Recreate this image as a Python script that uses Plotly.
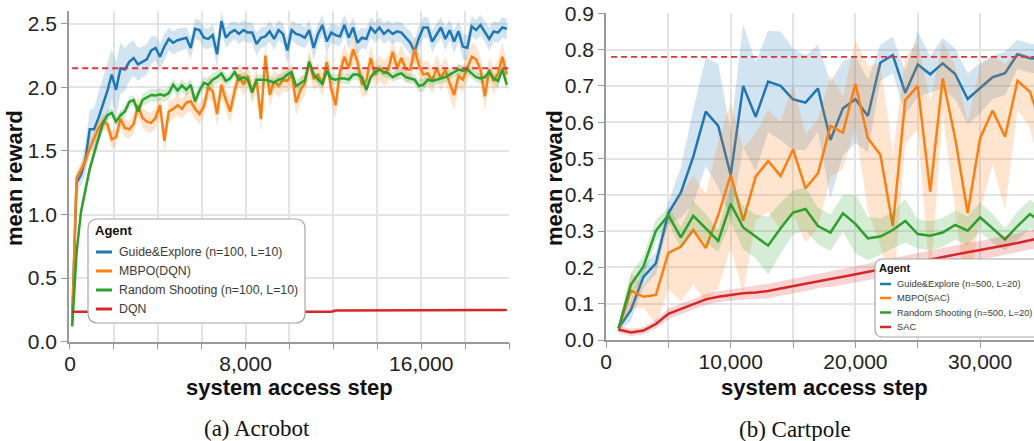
import plotly.graph_objects as go

W, H = 1034, 441

# ---------------- Acrobot (evaluation every 200 system steps) ----------------
acro_steps = list(range(100, 20000, 200))

acro_guide = [
    0.16, 1.25, 1.31, 1.43, 1.67, 1.67, 1.76, 1.86, 1.97, 2.10,
    1.98, 2.15, 2.14, 2.20, 2.23, 2.18, 2.20, 2.22, 2.29, 2.31,
    2.24, 2.32, 2.38, 2.35, 2.37, 2.38, 2.39, 2.31, 2.46, 2.45,
    2.39, 2.38, 2.41, 2.26, 2.52, 2.39, 2.43, 2.45, 2.42, 2.45,
    2.43, 2.43, 2.34, 2.39, 2.40, 2.44, 2.38, 2.45, 2.42, 2.29,
    2.45, 2.42, 2.41, 2.39, 2.45, 2.31, 2.42, 2.49, 2.36, 2.43,
    2.41, 2.40, 2.49, 2.39, 2.47, 2.35, 2.39, 2.38, 2.47, 2.43,
    2.47, 2.42, 2.45, 2.42, 2.44, 2.43, 2.39, 2.35, 2.28, 2.39,
    2.47, 2.47, 2.36, 2.42, 2.47, 2.38, 2.45, 2.36, 2.44, 2.32,
    2.31, 2.48, 2.45, 2.49, 2.44, 2.38, 2.44, 2.43, 2.47, 2.46,
]
acro_guide_sd = [
    0.03, 0.06, 0.08, 0.12, 0.15, 0.17, 0.20, 0.22, 0.22, 0.20,
    0.22, 0.20, 0.17, 0.15, 0.14, 0.13, 0.12, 0.12, 0.11, 0.10,
    0.10, 0.10, 0.09, 0.09, 0.09, 0.09, 0.08, 0.09, 0.08, 0.08,
    0.08, 0.08, 0.09, 0.10, 0.08, 0.08, 0.08, 0.07, 0.08, 0.08,
    0.08, 0.08, 0.09, 0.08, 0.08, 0.08, 0.09, 0.08, 0.08, 0.10,
    0.08, 0.08, 0.09, 0.08, 0.08, 0.10, 0.08, 0.08, 0.09, 0.08,
    0.08, 0.08, 0.08, 0.09, 0.08, 0.09, 0.08, 0.08, 0.08, 0.08,
    0.08, 0.08, 0.08, 0.08, 0.08, 0.08, 0.08, 0.09, 0.10, 0.09,
    0.08, 0.08, 0.09, 0.08, 0.08, 0.09, 0.08, 0.09, 0.08, 0.10,
    0.10, 0.08, 0.08, 0.08, 0.08, 0.09, 0.08, 0.08, 0.08, 0.08,
]

acro_mbpo = [
    0.15, 1.29, 1.35, 1.42, 1.52, 1.60, 1.68, 1.73, 1.71, 1.59,
    1.61, 1.75, 1.68, 1.67, 1.71, 1.86, 1.76, 1.73, 1.72, 1.76,
    1.86, 1.58, 1.81, 1.83, 1.86, 1.83, 1.88, 1.89, 1.83, 1.79,
    1.85, 2.00, 1.97, 1.79, 2.02, 1.90, 1.81, 1.97, 2.10, 2.02,
    2.09, 1.96, 2.06, 1.75, 2.25, 1.94, 2.05, 2.01, 2.06, 2.05,
    2.10, 1.88, 1.98, 2.03, 2.20, 2.07, 2.10, 2.02, 2.20, 1.99,
    1.86, 2.12, 2.24, 2.15, 2.30, 2.20, 2.02, 2.05, 2.23, 2.10,
    2.15, 2.11, 2.14, 2.28, 2.15, 2.23, 2.14, 2.14, 2.30, 2.17,
    2.10, 2.11, 2.05, 2.15, 2.07, 2.14, 2.03, 1.94, 2.09, 2.06,
    2.15, 2.24, 2.22, 2.14, 1.93, 2.14, 2.05, 2.11, 2.24, 2.10,
]
acro_mbpo_sd = [
    0.03, 0.05, 0.06, 0.06, 0.06, 0.06, 0.06, 0.06, 0.06, 0.07,
    0.07, 0.07, 0.07, 0.07, 0.08, 0.08, 0.08, 0.08, 0.08, 0.08,
    0.09, 0.10, 0.09, 0.08, 0.08, 0.08, 0.08, 0.08, 0.08, 0.08,
    0.08, 0.09, 0.09, 0.10, 0.09, 0.09, 0.10, 0.09, 0.09, 0.09,
    0.09, 0.09, 0.09, 0.11, 0.10, 0.10, 0.09, 0.09, 0.09, 0.09,
    0.09, 0.10, 0.10, 0.09, 0.10, 0.09, 0.09, 0.10, 0.10, 0.10,
    0.11, 0.10, 0.10, 0.10, 0.11, 0.10, 0.10, 0.11, 0.10, 0.10,
    0.10, 0.10, 0.10, 0.11, 0.10, 0.11, 0.10, 0.10, 0.11, 0.10,
    0.10, 0.10, 0.10, 0.10, 0.10, 0.10, 0.11, 0.12, 0.10, 0.10,
    0.10, 0.11, 0.11, 0.10, 0.12, 0.10, 0.10, 0.11, 0.11, 0.10,
]

acro_rs = [
    0.12, 0.70, 1.02, 1.20, 1.36, 1.48, 1.61, 1.72, 1.78, 1.80,
    1.73, 1.78, 1.81, 1.885, 1.90, 1.81, 1.90, 1.92, 1.94, 1.935,
    1.945, 1.935, 1.955, 2.02, 1.975, 2.015, 1.98, 2.02, 1.89, 1.975,
    2.035, 2.02, 2.06, 2.08, 2.11, 2.05, 2.07, 2.12, 2.06, 2.08,
    2.06, 1.96, 2.06, 2.06, 2.06, 2.05, 2.035, 2.06, 2.07, 2.10,
    2.12, 2.01, 2.035, 2.055, 2.20, 2.10, 2.06, 2.03, 2.13, 2.07,
    2.06, 2.07, 2.07, 2.06, 2.10, 2.10, 2.08, 1.98, 2.08, 2.12,
    2.14, 2.12, 2.11, 2.08, 2.10, 2.11, 2.08, 2.07, 2.06, 2.01,
    2.02, 2.06, 2.05, 2.06, 2.07, 2.08, 2.10, 2.12, 2.14, 2.13,
    2.14, 2.11, 2.08, 2.07, 2.08, 2.12, 2.07, 2.05, 2.14, 2.02,
]
acro_rs_sd = [
    0.02, 0.05, 0.05, 0.05, 0.05, 0.05, 0.04, 0.04, 0.04, 0.04,
    0.04, 0.04, 0.04, 0.04, 0.04, 0.04, 0.05, 0.05, 0.05, 0.05,
    0.05, 0.05, 0.05, 0.05, 0.05, 0.05, 0.05, 0.05, 0.05, 0.05,
    0.05, 0.05, 0.05, 0.05, 0.05, 0.04, 0.04, 0.04, 0.04, 0.04,
    0.04, 0.05, 0.04, 0.04, 0.04, 0.04, 0.04, 0.04, 0.04, 0.04,
    0.04, 0.05, 0.05, 0.04, 0.05, 0.04, 0.04, 0.04, 0.04, 0.04,
    0.04, 0.04, 0.04, 0.04, 0.04, 0.04, 0.05, 0.05, 0.04, 0.04,
    0.04, 0.04, 0.04, 0.04, 0.04, 0.04, 0.04, 0.04, 0.04, 0.05,
    0.05, 0.04, 0.04, 0.04, 0.04, 0.04, 0.04, 0.04, 0.04, 0.04,
    0.04, 0.04, 0.04, 0.04, 0.04, 0.04, 0.05, 0.05, 0.05, 0.05,
]

acro_dqn = [
    0.235, 0.235, 0.235, 0.235, 0.235, 0.235, 0.235, 0.235, 0.235, 0.235,
    0.235, 0.235, 0.235, 0.235, 0.235, 0.235, 0.235, 0.235, 0.235, 0.235,
    0.235, 0.235, 0.235, 0.235, 0.235, 0.235, 0.235, 0.235, 0.235, 0.235,
    0.235, 0.235, 0.235, 0.235, 0.235, 0.235, 0.235, 0.235, 0.235, 0.235,
    0.235, 0.235, 0.235, 0.235, 0.235, 0.235, 0.235, 0.235, 0.235, 0.235,
    0.235, 0.235, 0.235, 0.235, 0.235, 0.235, 0.235, 0.235, 0.235, 0.235,
    0.245, 0.245, 0.245, 0.245, 0.245, 0.245, 0.245, 0.245, 0.245, 0.245,
    0.245, 0.245, 0.245, 0.245, 0.245, 0.245, 0.245, 0.245, 0.245, 0.245,
    0.250, 0.250, 0.250, 0.250, 0.250, 0.250, 0.250, 0.250, 0.250, 0.250,
    0.250, 0.250, 0.250, 0.250, 0.250, 0.250, 0.250, 0.250, 0.250, 0.250,
]
acro_target = 2.15

# ---------------- Cartpole (evaluation every 1000 system steps) ----------------
cart_steps = list(range(1000, 36000, 1000))

cart_guide = [0.032, 0.083, 0.174, 0.211, 0.349, 0.406, 0.505, 0.629, 0.590, 0.455,
              0.700, 0.615, 0.712, 0.700, 0.663, 0.654, 0.693, 0.551, 0.638, 0.663,
              0.617, 0.764, 0.785, 0.681, 0.759, 0.732, 0.762, 0.733, 0.664, 0.693,
              0.724, 0.735, 0.787, 0.776, 0.775]
cart_guide_sd = [0.01, 0.03, 0.03, 0.03, 0.03, 0.07, 0.13, 0.15, 0.17, 0.12,
                 0.17, 0.15, 0.14, 0.15, 0.14, 0.13, 0.12, 0.16, 0.13, 0.12,
                 0.10, 0.05, 0.05, 0.06, 0.09, 0.05, 0.07, 0.07, 0.07, 0.07,
                 0.06, 0.06, 0.04, 0.04, 0.04]

cart_mbpo = [0.032, 0.136, 0.119, 0.124, 0.240, 0.257, 0.303, 0.253, 0.344, 0.455,
             0.329, 0.450, 0.493, 0.452, 0.525, 0.418, 0.459, 0.590, 0.571, 0.706,
             0.556, 0.510, 0.314, 0.661, 0.700, 0.409, 0.721, 0.556, 0.350, 0.556,
             0.632, 0.560, 0.714, 0.684, 0.580]
cart_mbpo_sd = [0.01, 0.05, 0.03, 0.08, 0.10, 0.15, 0.15, 0.15, 0.20, 0.20,
                0.20, 0.12, 0.14, 0.15, 0.18, 0.15, 0.15, 0.14, 0.10, 0.12,
                0.20, 0.25, 0.20, 0.12, 0.12, 0.25, 0.10, 0.20, 0.25, 0.20,
                0.15, 0.20, 0.08, 0.10, 0.15]

cart_rs = [0.032, 0.153, 0.202, 0.301, 0.344, 0.283, 0.342, 0.308, 0.273, 0.375,
           0.310, 0.285, 0.260, 0.308, 0.351, 0.361, 0.314, 0.296, 0.349, 0.320,
           0.280, 0.285, 0.303, 0.328, 0.292, 0.287, 0.296, 0.317, 0.301, 0.338,
           0.308, 0.277, 0.314, 0.347, 0.320]
cart_rs_sd = [0.01, 0.03, 0.03, 0.03, 0.02, 0.03, 0.04, 0.04, 0.03, 0.05,
              0.06, 0.06, 0.08, 0.07, 0.06, 0.06, 0.05, 0.05, 0.05, 0.08,
              0.06, 0.05, 0.05, 0.06, 0.04, 0.04, 0.04, 0.04, 0.04, 0.04,
              0.04, 0.03, 0.04, 0.04, 0.04]

cart_sac = [0.029, 0.021, 0.026, 0.044, 0.072, 0.085, 0.099, 0.112, 0.119, 0.124,
            0.129, 0.131, 0.135, 0.142, 0.149, 0.154, 0.163, 0.168, 0.174, 0.181,
            0.188, 0.195, 0.202, 0.209, 0.216, 0.222, 0.229, 0.236, 0.242, 0.248,
            0.254, 0.260, 0.267, 0.275, 0.282]
cart_sac_sd = [0.010, 0.010, 0.010, 0.012, 0.015, 0.015, 0.015, 0.015, 0.015, 0.015,
               0.017, 0.018, 0.020, 0.020, 0.020, 0.020, 0.020, 0.022, 0.022, 0.022,
               0.022, 0.024, 0.024, 0.024, 0.025, 0.025, 0.025, 0.025, 0.025, 0.025,
               0.026, 0.026, 0.026, 0.026, 0.026]
cart_target = 0.78

acro_labels = ["Guide&Explore (n=100, L=10)", "MBPO(DQN)",
               "Random Shooting (n=100, L=10)", "DQN"]
cart_labels = ["Guide&Explore (n=500, L=20)", "MBPO(SAC)",
               "Random Shooting (n=500, L=20)", "SAC"]

COLORS = ["#1f77b4", "#ff7f0e", "#2ca02c", "#d62728"]
BANDS = ["rgba(31,119,180,0.2)", "rgba(255,127,14,0.2)",
         "rgba(44,160,44,0.2)", "rgba(214,39,40,0.2)"]

SANS = "Liberation Sans, Arial, sans-serif"
SERIF = "Liberation Serif, Times New Roman, serif"


def X(px):
    return px / W


def Y(py):
    return 1 - py / H


fig = go.Figure()


def add_series(x, mean, sd, color, band, xa, ya):
    fig.add_trace(go.Scatter(x=x, y=mean, mode="lines", xaxis=xa, yaxis=ya,
                             line=dict(color=color, width=2.5),
                             showlegend=False, hoverinfo="skip"))
    if sd is not None:
        upper = [m + s for m, s in zip(mean, sd)]
        lower = [m - s for m, s in zip(mean, sd)]
        fig.add_trace(go.Scatter(x=list(x) + list(x)[::-1],
                                 y=upper + lower[::-1],
                                 fill="toself", fillcolor=band, mode="lines",
                                 line=dict(width=0), xaxis=xa, yaxis=ya,
                                 showlegend=False, hoverinfo="skip"))


acro_series = [(acro_guide, acro_guide_sd), (acro_mbpo, acro_mbpo_sd),
               (acro_rs, acro_rs_sd), (acro_dqn, None)]
for k, (m, s) in enumerate(acro_series):
    add_series(acro_steps, m, s, COLORS[k], BANDS[k], "x", "y")

cart_series = [(cart_guide, cart_guide_sd), (cart_mbpo, cart_mbpo_sd),
               (cart_rs, cart_rs_sd), (cart_sac, cart_sac_sd)]
for k, (m, s) in enumerate(cart_series):
    add_series(cart_steps, m, s, COLORS[k], BANDS[k], "x2", "y2")

grid = dict(showgrid=True, gridcolor="#e4e4e4", gridwidth=1.5, zeroline=False,
            showline=True, linecolor="#9a9a9a", linewidth=1.5, automargin=False,
            ticks="outside", ticklen=6, tickcolor="#9a9a9a", tickwidth=1.2,
            tickfont=dict(family=SANS, size=21, color="#222"))
xgrid = dict(grid, ticklabelstandoff=-4)

acro_xticks = list(range(0, 20001, 2000))
acro_xtext = ["{:,}".format(v) if v % 8000 == 0 else "" for v in acro_xticks]
cart_xticks = list(range(0, 30001, 5000))
cart_xtext = ["{:,}".format(v) if v % 10000 == 0 else "" for v in cart_xticks]
acro_yticks = [0.0, 0.5, 1.0, 1.5, 2.0, 2.5]
cart_yticks = [0.0, 0.1, 0.2, 0.3, 0.4, 0.5, 0.6, 0.7, 0.8, 0.9]

fig.update_layout(
    template="none",
    width=W, height=H, margin=dict(l=0, r=0, t=0, b=0, autoexpand=False),
    paper_bgcolor="white", plot_bgcolor="white", showlegend=False,
    xaxis=dict(domain=[X(69), X(509)], range=[-45, 20000], anchor="y",
               tickvals=acro_xticks, ticktext=acro_xtext, **xgrid),
    yaxis=dict(domain=[Y(341.7), Y(11)], range=[0, 2.6], anchor="x",
               tickvals=acro_yticks, ticktext=["%.1f" % v for v in acro_yticks], **grid),
    xaxis2=dict(domain=[X(606), 1.0], range=[0, 34322], anchor="y2",
                tickvals=cart_xticks, ticktext=cart_xtext, **xgrid),
    yaxis2=dict(domain=[Y(340), Y(13.3)], range=[0, 0.9], anchor="x2",
                tickvals=cart_yticks, ticktext=["%.1f" % v for v in cart_yticks], **grid),
)

# best-reported reference levels
fig.add_shape(type="line", xref="x", yref="y", x0=100, x1=20000,
              y0=acro_target, y1=acro_target,
              line=dict(color="#e0343c", width=1.8, dash="6px,4px"))
fig.add_shape(type="line", xref="x2", yref="y2", x0=400, x1=34322,
              y0=cart_target, y1=cart_target,
              line=dict(color="#e0343c", width=1.8, dash="6px,4px"))


def rounded_box(x0, y0, x1, y1, r):
    rx, ry = r / W, r / H
    a, b, c, d = X(x0), Y(y0), X(x1), Y(y1)
    path = (f"M {a+rx},{b} L {c-rx},{b} Q {c},{b} {c},{b-ry} "
            f"L {c},{d+ry} Q {c},{d} {c-rx},{d} "
            f"L {a+rx},{d} Q {a},{d} {a},{d+ry} "
            f"L {a},{b-ry} Q {a},{b} {a+rx},{b} Z")
    fig.add_shape(type="path", path=path, xref="paper", yref="paper",
                  fillcolor="white", line=dict(color="#a8a8a8", width=1.2),
                  layer="above")


def legend(box, title_xy, title_size, line_x, rows_y, text_x, labels, size, lw):
    rounded_box(*box)
    fig.add_annotation(x=X(title_xy[0]), y=Y(title_xy[1]), xref="paper", yref="paper",
                       text="<b>Agent</b>", showarrow=False, xanchor="left",
                       yanchor="middle", font=dict(family=SANS, size=title_size, color="#111"))
    for k, (yy, lab) in enumerate(zip(rows_y, labels)):
        fig.add_shape(type="line", xref="paper", yref="paper",
                      x0=X(line_x[0]), x1=X(line_x[1]), y0=Y(yy), y1=Y(yy),
                      line=dict(color=COLORS[k], width=lw), layer="above")
        fig.add_annotation(x=X(text_x), y=Y(yy), xref="paper", yref="paper",
                           text=lab, showarrow=False, xanchor="left", yanchor="middle",
                           font=dict(family=SANS, size=size, color="#3a3a3a"))


legend((88, 219, 305, 323, 10), (93, 230), 13, (96, 112),
       [252, 271, 290, 309], 117, acro_labels, 12.3, 3)
legend((875, 259, 1042, 337, 8), (877, 268), 11, (880, 891),
       [284, 298, 312.5, 327], 895, cart_labels, 9.3, 2.5)

# axis titles
for xc in (15, 555):
    fig.add_annotation(x=X(xc), y=Y(178), xref="paper", yref="paper",
                       text="<b>mean reward</b>", textangle=-90, showarrow=False,
                       xanchor="center", yanchor="middle",
                       font=dict(family=SANS, size=22, color="#111"))
for xc in (289, 824):
    fig.add_annotation(x=X(xc), y=Y(387), xref="paper", yref="paper",
                       text="<b>system access step</b>", showarrow=False,
                       xanchor="center", yanchor="middle",
                       font=dict(family=SANS, size=22, color="#111"))

# captions
fig.add_annotation(x=X(257), y=Y(428), xref="paper", yref="paper",
                   text="(a) Acrobot", showarrow=False, xanchor="center", yanchor="middle",
                   font=dict(family=SERIF, size=23, color="#111"))
fig.add_annotation(x=X(795), y=Y(429), xref="paper", yref="paper",
                   text="(b) Cartpole", showarrow=False, xanchor="center", yanchor="middle",
                   font=dict(family=SERIF, size=23, color="#111"))

fig.write_html("out.html")
